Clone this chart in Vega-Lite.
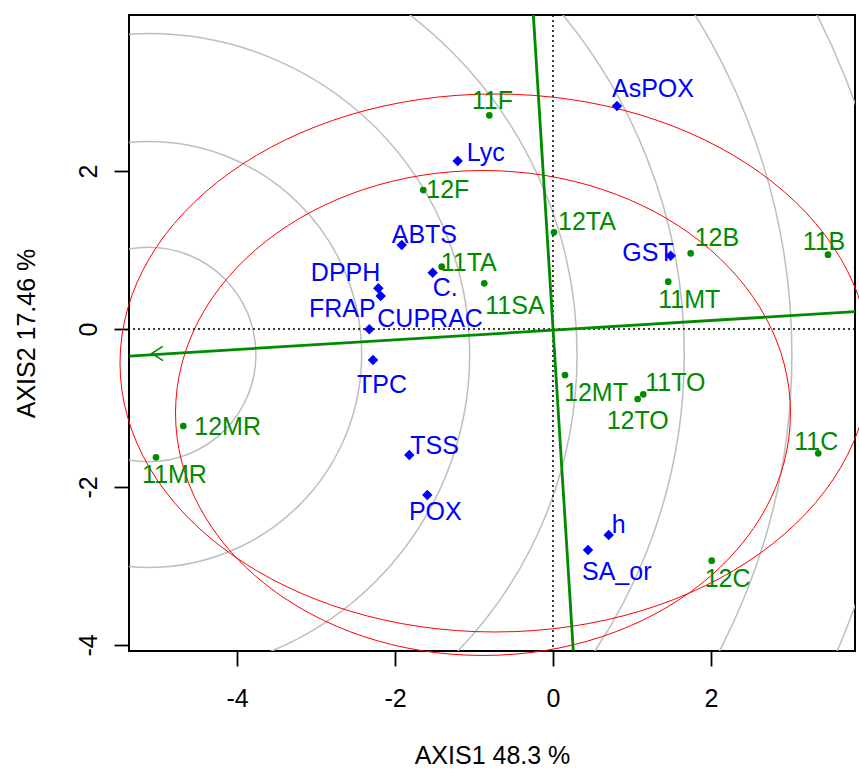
{
  "$schema": "https://vega.github.io/schema/vega-lite/v6.json",
  "width": 726,
  "height": 636,
  "autosize": {"type": "none"},
  "padding": {"left": 129, "top": 15, "right": 4, "bottom": 118},
  "background": "white",
  "config": {
    "view": {"stroke": "black", "strokeWidth": 2},
    "font": "Liberation Sans",
    "axis": {"grid": false, "domain": false, "tickColor": "black", "tickWidth": 1.8, "tickSize": 15, "labelColor": "black", "labelFontSize": 25, "labelFont": "Liberation Sans", "titleFont": "Liberation Sans", "titleFontSize": 25, "titleFontWeight": "normal", "titleColor": "black", "labelOverlap": false, "labelFlush": false}
  },
  "datasets": {
    "pts": [
      {"name": "AsPOX", "grp": "var", "x": 0.810, "y": 2.823},
      {"name": "Lyc", "grp": "var", "x": -1.206, "y": 2.127},
      {"name": "ABTS", "grp": "var", "x": -1.915, "y": 1.063},
      {"name": "DPPH", "grp": "var", "x": -2.211, "y": 0.515},
      {"name": "FRAP", "grp": "var", "x": -2.181, "y": 0.418},
      {"name": "CUPRAC", "grp": "var", "x": -2.325, "y": -0.004},
      {"name": "C.", "grp": "var", "x": -1.523, "y": 0.713},
      {"name": "GST", "grp": "var", "x": 1.490, "y": 0.928},
      {"name": "TPC", "grp": "var", "x": -2.278, "y": -0.392},
      {"name": "TSS", "grp": "var", "x": -1.819, "y": -1.595},
      {"name": "POX", "grp": "var", "x": -1.591, "y": -2.101},
      {"name": "h", "grp": "var", "x": 0.705, "y": -2.608},
      {"name": "SA_or", "grp": "var", "x": 0.443, "y": -2.797},
      {"name": "11F", "grp": "gen", "x": -0.806, "y": 2.705},
      {"name": "12F", "grp": "gen", "x": -1.642, "y": 1.759},
      {"name": "12TA", "grp": "gen", "x": 0.013, "y": 1.224},
      {"name": "11TA", "grp": "gen", "x": -1.409, "y": 0.789},
      {"name": "11SA", "grp": "gen", "x": -0.870, "y": 0.578},
      {"name": "12B", "grp": "gen", "x": 1.743, "y": 0.958},
      {"name": "11B", "grp": "gen", "x": 3.481, "y": 0.941},
      {"name": "11MT", "grp": "gen", "x": 1.459, "y": 0.599},
      {"name": "12MT", "grp": "gen", "x": 0.152, "y": -0.582},
      {"name": "11TO", "grp": "gen", "x": 1.143, "y": -0.827},
      {"name": "12TO", "grp": "gen", "x": 1.072, "y": -0.886},
      {"name": "11C", "grp": "gen", "x": 3.358, "y": -1.573},
      {"name": "12C", "grp": "gen", "x": 2.009, "y": -2.933},
      {"name": "12MR", "grp": "gen", "x": -4.680, "y": -1.228},
      {"name": "11MR", "grp": "gen", "x": -5.025, "y": -1.624}
    ],
    "circles": [
      {"x": -5.118, "y": -0.323, "r": 1.358},
      {"x": -5.118, "y": -0.323, "r": 2.696},
      {"x": -5.118, "y": -0.323, "r": 4.063},
      {"x": -5.118, "y": -0.323, "r": 5.423},
      {"x": -5.118, "y": -0.323, "r": 6.780},
      {"x": -5.118, "y": -0.323, "r": 8.142},
      {"x": -5.118, "y": -0.323, "r": 9.489}
    ],
    "ellipses": [
      {"e": "E1", "x": -0.734, "y": -0.430, "r": 4.747},
      {"e": "E2", "x": -0.886, "y": -1.063, "r": 3.892}
    ],
    "lines": [
      {"line": "A", "i": 0, "x": -5.363, "y": -0.342},
      {"line": "A", "i": 1, "x": 3.823, "y": 0.219},
      {"line": "B", "i": 0, "x": -0.249, "y": 3.975},
      {"line": "B", "i": 1, "x": 0.257, "y": -4.072}
    ],
    "arrow": [
      {"i": 0, "x": -4.94, "y": -0.22},
      {"i": 1, "x": -5.08, "y": -0.31},
      {"i": 2, "x": -4.935, "y": -0.40}
    ],
    "zero": [{"v": 0}]
  },
  "layer": [
    {
      "data": {"name": "circles"},
      "mark": {"type": "point", "shape": "circle", "filled": false, "color": "#BEBEBE", "strokeWidth": 1.5, "opacity": 1, "clip": true},
      "encoding": {
        "x": {"field": "x", "type": "quantitative", "scale": {"domain": [-5.367, 3.823], "nice": false, "zero": false},
              "axis": {"values": [-4, -2, 0, 2], "labelExpr": "'' + datum.value", "labelBaseline": "alphabetic", "labelPadding": 40.5, "title": "AXIS1 48.3 %", "titleY": 112, "titleBaseline": "alphabetic"}},
        "y": {"field": "y", "type": "quantitative", "scale": {"domain": [-4.076, 3.975], "nice": false, "zero": false},
              "axis": {"values": [-4, -2, 0, 2], "labelExpr": "'' + datum.value", "labelAngle": -90, "labelAlign": "center", "labelBaseline": "alphabetic", "labelPadding": 18, "title": "AXIS2 17.46 %", "titleAngle": -90, "titleX": -95, "titleY": 318, "titleAlign": "center", "titleBaseline": "alphabetic"}},
        "size": {"field": "r", "type": "quantitative", "scale": {"type": "pow", "exponent": 2, "domain": [0, 10], "range": [0, 2496400], "zero": true}, "legend": null}
      }
    },
    {
      "data": {"name": "ellipses"},
      "transform": [{"filter": "datum.e === 'E1'"}],
      "mark": {"type": "point", "shape": "M -1 0 C -1 -0.3962 -0.5523 -0.7173 0 -0.7173 C 0.5523 -0.7173 1 -0.3962 1 0 C 1 0.3962 0.5523 0.7173 0 0.7173 C -0.5523 0.7173 -1 0.3962 -1 0 Z", "filled": false, "color": "#FF0000", "strokeWidth": 1, "opacity": 1},
      "encoding": {
        "x": {"field": "x", "type": "quantitative"},
        "y": {"field": "y", "type": "quantitative"},
        "size": {"field": "r", "type": "quantitative", "scale": {"type": "pow", "exponent": 2, "domain": [0, 10], "range": [0, 2496400], "zero": true}, "legend": null}
      }
    },
    {
      "data": {"name": "ellipses"},
      "transform": [{"filter": "datum.e === 'E2'"}],
      "mark": {"type": "point", "shape": "M -1 0 C -1 -0.4355 -0.5523 -0.7886 0 -0.7886 C 0.5523 -0.7886 1 -0.4355 1 0 C 1 0.4355 0.5523 0.7886 0 0.7886 C -0.5523 0.7886 -1 0.4355 -1 0 Z", "filled": false, "color": "#FF0000", "strokeWidth": 1, "opacity": 1},
      "encoding": {
        "x": {"field": "x", "type": "quantitative"},
        "y": {"field": "y", "type": "quantitative"},
        "size": {"field": "r", "type": "quantitative", "scale": {"type": "pow", "exponent": 2, "domain": [0, 10], "range": [0, 2496400], "zero": true}, "legend": null}
      }
    },
    {
      "data": {"name": "zero"},
      "mark": {"type": "rule", "color": "black", "strokeWidth": 1.5, "strokeDash": [2, 3]},
      "encoding": {"x": {"field": "v", "type": "quantitative"}}
    },
    {
      "data": {"name": "zero"},
      "mark": {"type": "rule", "color": "black", "strokeWidth": 1.5, "strokeDash": [2, 3]},
      "encoding": {"y": {"field": "v", "type": "quantitative"}}
    },
    {
      "data": {"name": "lines"},
      "mark": {"type": "line", "color": "#008B00", "strokeWidth": 2.8, "clip": true},
      "encoding": {
        "x": {"field": "x", "type": "quantitative"},
        "y": {"field": "y", "type": "quantitative"},
        "detail": {"field": "line", "type": "nominal"},
        "order": {"field": "i", "type": "quantitative"}
      }
    },
    {
      "data": {"name": "arrow"},
      "mark": {"type": "line", "color": "#008B00", "strokeWidth": 1.6},
      "encoding": {
        "x": {"field": "x", "type": "quantitative"},
        "y": {"field": "y", "type": "quantitative"},
        "order": {"field": "i", "type": "quantitative"}
      }
    },
    {
      "data": {"name": "pts"},
      "transform": [{"filter": "datum.grp === 'var'"}],
      "mark": {"type": "point", "shape": "diamond", "filled": true, "size": 110, "color": "#0000FF", "opacity": 1},
      "encoding": {"x": {"field": "x", "type": "quantitative"}, "y": {"field": "y", "type": "quantitative"}}
    },
    {
      "data": {"name": "pts"},
      "transform": [{"filter": "datum.grp === 'gen'"}],
      "mark": {"type": "point", "shape": "circle", "filled": true, "size": 45, "color": "#008B00", "opacity": 1},
      "encoding": {"x": {"field": "x", "type": "quantitative"}, "y": {"field": "y", "type": "quantitative"}}
    },
    {
      "data": {"name": "pts"},
      "encoding": {
        "x": {"field": "x", "type": "quantitative"},
        "y": {"field": "y", "type": "quantitative"},
        "text": {"field": "name"},
        "color": {"field": "grp", "type": "nominal", "scale": {"domain": ["gen", "var"], "range": ["#008B00", "#0000FF"]}, "legend": null}
      },
      "layer": [
        {"transform": [{"filter": "datum.name === 'AsPOX'"}], "mark": {"type": "text", "fontSize": 25, "baseline": "middle", "align": "left", "dx": -5, "dy": -17}},
        {"transform": [{"filter": "datum.name === 'Lyc'"}], "mark": {"type": "text", "fontSize": 25, "baseline": "middle", "align": "left", "dx": 9, "dy": -8}},
        {"transform": [{"filter": "datum.name === 'ABTS'"}], "mark": {"type": "text", "fontSize": 25, "baseline": "middle", "align": "left", "dx": -10, "dy": -10}},
        {"transform": [{"filter": "datum.name === 'DPPH'"}], "mark": {"type": "text", "fontSize": 25, "baseline": "middle", "align": "right", "dx": 2, "dy": -15}},
        {"transform": [{"filter": "datum.name === 'FRAP'"}], "mark": {"type": "text", "fontSize": 25, "baseline": "middle", "align": "right", "dx": -5, "dy": 13}},
        {"transform": [{"filter": "datum.name === 'CUPRAC'"}], "mark": {"type": "text", "fontSize": 25, "baseline": "middle", "align": "left", "dx": 8, "dy": -10}},
        {"transform": [{"filter": "datum.name === 'C.'"}], "mark": {"type": "text", "fontSize": 25, "baseline": "middle", "align": "left", "dx": 0, "dy": 15}},
        {"transform": [{"filter": "datum.name === 'GST'"}], "mark": {"type": "text", "fontSize": 25, "baseline": "middle", "align": "right", "dx": 3, "dy": -3}},
        {"transform": [{"filter": "datum.name === 'TPC'"}], "mark": {"type": "text", "fontSize": 25, "baseline": "middle", "align": "center", "dx": 9, "dy": 25}},
        {"transform": [{"filter": "datum.name === 'TSS'"}], "mark": {"type": "text", "fontSize": 25, "baseline": "middle", "align": "left", "dx": 1, "dy": -9}},
        {"transform": [{"filter": "datum.name === 'POX'"}], "mark": {"type": "text", "fontSize": 25, "baseline": "middle", "align": "center", "dx": 8, "dy": 17}},
        {"transform": [{"filter": "datum.name === 'h'"}], "mark": {"type": "text", "fontSize": 25, "baseline": "middle", "align": "left", "dx": 3, "dy": -10}},
        {"transform": [{"filter": "datum.name === 'SA_or'"}], "mark": {"type": "text", "fontSize": 25, "baseline": "middle", "align": "left", "dx": -6, "dy": 22}},
        {"transform": [{"filter": "datum.name === '11F'"}], "mark": {"type": "text", "fontSize": 25, "baseline": "middle", "align": "center", "dx": 3, "dy": -14}},
        {"transform": [{"filter": "datum.name === '12F'"}], "mark": {"type": "text", "fontSize": 25, "baseline": "middle", "align": "left", "dx": 3, "dy": 0}},
        {"transform": [{"filter": "datum.name === '12TA'"}], "mark": {"type": "text", "fontSize": 25, "baseline": "middle", "align": "left", "dx": 4, "dy": -10}},
        {"transform": [{"filter": "datum.name === '11TA'"}], "mark": {"type": "text", "fontSize": 25, "baseline": "middle", "align": "left", "dx": -1, "dy": -4}},
        {"transform": [{"filter": "datum.name === '11SA'"}], "mark": {"type": "text", "fontSize": 25, "baseline": "middle", "align": "left", "dx": 1, "dy": 23}},
        {"transform": [{"filter": "datum.name === '12B'"}], "mark": {"type": "text", "fontSize": 25, "baseline": "middle", "align": "left", "dx": 4, "dy": -15}},
        {"transform": [{"filter": "datum.name === '11B'"}], "mark": {"type": "text", "fontSize": 25, "baseline": "middle", "align": "center", "dx": -4, "dy": -13}},
        {"transform": [{"filter": "datum.name === '11MT'"}], "mark": {"type": "text", "fontSize": 25, "baseline": "middle", "align": "left", "dx": -10, "dy": 18}},
        {"transform": [{"filter": "datum.name === '12MT'"}], "mark": {"type": "text", "fontSize": 25, "baseline": "middle", "align": "left", "dx": -1, "dy": 18}},
        {"transform": [{"filter": "datum.name === '11TO'"}], "mark": {"type": "text", "fontSize": 25, "baseline": "middle", "align": "left", "dx": 2, "dy": -11}},
        {"transform": [{"filter": "datum.name === '12TO'"}], "mark": {"type": "text", "fontSize": 25, "baseline": "middle", "align": "center", "dx": 0, "dy": 22}},
        {"transform": [{"filter": "datum.name === '11C'"}], "mark": {"type": "text", "fontSize": 25, "baseline": "middle", "align": "center", "dx": -2, "dy": -11}},
        {"transform": [{"filter": "datum.name === '12C'"}], "mark": {"type": "text", "fontSize": 25, "baseline": "middle", "align": "left", "dx": -7, "dy": 18}},
        {"transform": [{"filter": "datum.name === '12MR'"}], "mark": {"type": "text", "fontSize": 25, "baseline": "middle", "align": "left", "dx": 11, "dy": 1}},
        {"transform": [{"filter": "datum.name === '11MR'"}], "mark": {"type": "text", "fontSize": 25, "baseline": "middle", "align": "left", "dx": -14, "dy": 18}}
      ]
    }
  ]
}
